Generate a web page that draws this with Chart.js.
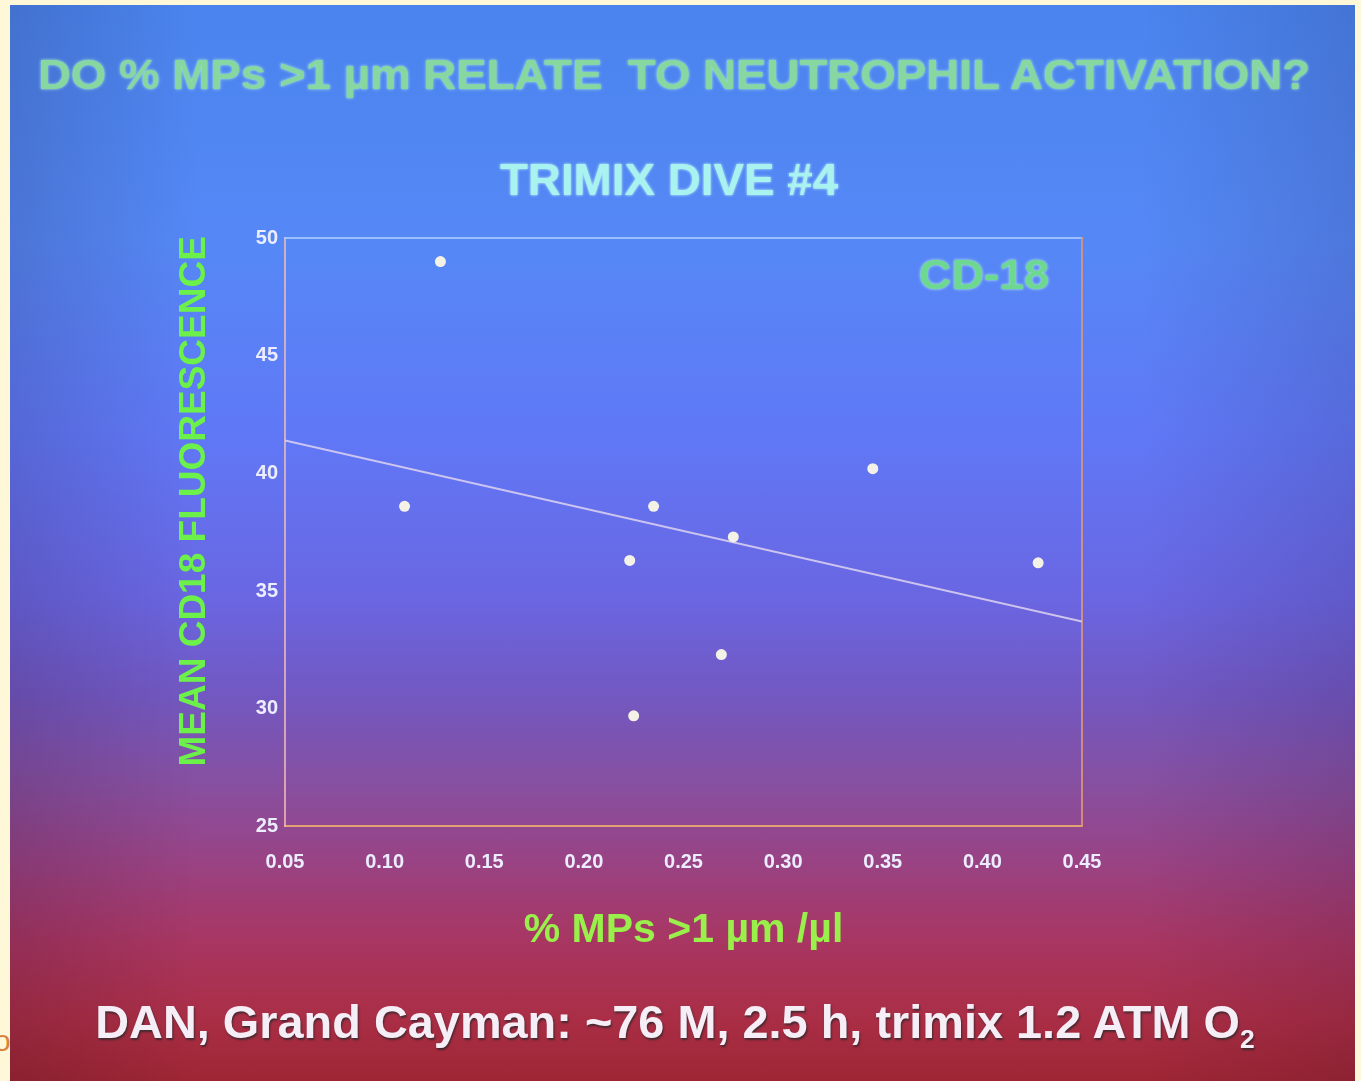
<!DOCTYPE html>
<html>
<head>
<meta charset="utf-8">
<title>CD-18 vs % MPs</title>
<script src="https://cdn.jsdelivr.net/npm/chart.js@4.4.0/dist/chart.umd.min.js"></script>
<style>
  html, body { margin: 0; padding: 0; width: 1361px; height: 1081px; overflow: hidden; background: #fff8d8; }
  #slide {
    position: absolute; left: 10px; top: 5px; width: 1345px; height: 1076px; overflow: hidden;
    background:
      linear-gradient(90deg, rgba(20, 0, 20, 0.14) 0%, rgba(20, 0, 20, 0) 14%, rgba(20, 0, 20, 0) 84%, rgba(20, 0, 30, 0.12) 100%),
      linear-gradient(180deg, #4a84ee 0%, #5588f6 22%, #6078f6 40%, #6a66e2 55%, #7258c2 64%, #8650a2 72%, #9a4282 80%, #a83662 87%, #aa2e46 94%, #9e2634 100%);
  }
  #chartBox { position: absolute; left: 0; top: 0; width: 1345px; height: 1076px; }
  .txt {
    position: absolute; white-space: nowrap; font-weight: bold;
    font-family: 'Liberation Sans', Arial, sans-serif;
    transform: translate(-50%, -50%);
  }
  #title { left: 664px; top: 70px; font-size: 42px; color: #86d8a0; text-shadow: 0 0 3px #b8f4d8; }
  #subtitle { left: 659px; top: 175px; font-size: 44px; color: #a8f2f0; text-shadow: 0 0 3px #d0fff8; }
  #tag { left: 974px; top: 270px; font-size: 42px; color: #6cd890; text-shadow: 0 0 3px #c8fae0; }
  #footer { left: 665px; top: 1020px; font-size: 46px; color: #f6eef6; text-shadow: 1px 2px 2px rgba(30, 40, 40, 0.7); }
  #footer sub { font-size: 26px; }
  #edge { position: absolute; left: -6px; top: 1024px; font-size: 30px; color: #d88440; font-family: 'Liberation Sans', Arial, sans-serif; }
</style>
</head>
<body>
<div id="edge">o</div>
<div id="slide">
  <div id="chartBox"><canvas id="chart"></canvas></div>
  <div class="txt" id="title" data-w="1272">DO % MPs &gt;1 µm RELATE&nbsp; TO NEUTROPHIL ACTIVATION?</div>
  <div class="txt" id="subtitle" data-w="338">TRIMIX DIVE #4</div>
  <div class="txt" id="tag" data-w="130">CD-18</div>
  <div class="txt" id="footer" data-w="1160">DAN, Grand Cayman: ~76 M, 2.5 h, trimix 1.2 ATM O<sub>2</sub></div>
</div>
<script>
// values
const mpPercent = [0.128, 0.110, 0.235, 0.223, 0.275, 0.345, 0.428, 0.269, 0.225];
const cd18 = [49.0, 38.6, 38.6, 36.3, 37.3, 40.2, 36.2, 32.3, 29.7];
const fitX = [0.05, 0.45];
const fitY = [41.4, 33.7];

const xTitle = '% MPs >1 µm /µl';
// leading spaces push the rotated title up a little, as on the slide
const yTitle = '      MEAN CD18 FLUORESCENCE';

// squeeze the slide texts to their widths in the photo
document.querySelectorAll('.txt').forEach(el => {
  const k = parseFloat(el.dataset.w) / el.offsetWidth;
  el.style.transform = 'translate(-50%, -50%) scaleX(' + k.toFixed(3) + ')';
});

const tickFont = { family: "'Liberation Sans', Arial, sans-serif", size: 20, weight: 'bold' };

const ctx = document.getElementById('chart').getContext('2d');
const chart = new Chart(ctx, {
  type: 'scatter',
  data: {
    datasets: [{
      label: 'CD-18',
      data: mpPercent.map((x, i) => ({ x: x, y: cd18[i] })),
      pointRadius: 5.5,
      pointBackgroundColor: '#f4f2e6',
      pointBorderWidth: 0,
      showLine: false
    }, {
      label: 'fit',
      data: fitX.map((x, i) => ({ x: x, y: fitY[i] })),
      showLine: true,
      pointRadius: 0,
      borderColor: 'rgba(222, 212, 240, 0.85)',
      borderWidth: 2
    }]
  },
  options: {
    responsive: true,
    maintainAspectRatio: false,
    animation: false,
    layout: { padding: { left: 163, right: 273, top: 233, bottom: 126 } },
    plugins: { legend: { display: false }, tooltip: { enabled: false } },
    scales: {
      x: {
        type: 'linear', position: 'bottom', min: 0.05, max: 0.45,
        grid: { display: false, drawTicks: false },
        border: { display: true, color: '#e2a274', width: 2 },
        ticks: { stepSize: 0.05, padding: 24, color: '#eceeff', font: tickFont,
                 callback: v => v.toFixed(2) },
        title: { display: true, text: xTitle, color: '#9af04a', padding: 0,
                 font: { family: "'Liberation Sans', Arial, sans-serif", size: 41, weight: 'bold' } },
        afterFit: s => { s.height = 128.6; }
      },
      y: {
        type: 'linear', position: 'left', min: 25, max: 50,
        grid: { display: false, drawTicks: false },
        border: { display: true, color: 'rgba(236, 186, 180, 0.8)', width: 2 },
        ticks: { stepSize: 5, padding: 7, color: '#eceeff', font: tickFont },
        title: { display: true, text: yTitle, color: '#6cf04a', padding: 0,
                 font: { family: "'Liberation Sans', Arial, sans-serif", size: 37, weight: 'bold' } },
        afterFit: s => { s.width = 112; }
      },
      x2: {
        type: 'linear', position: 'top', min: 0.05, max: 0.45,
        grid: { display: false, drawTicks: false },
        border: { display: true, color: 'rgba(170, 205, 255, 0.8)', width: 2 },
        ticks: { display: false }
      },
      y2: {
        type: 'linear', position: 'right', min: 25, max: 50,
        grid: { display: false, drawTicks: false },
        border: { display: true, color: 'rgba(220, 150, 120, 0.85)', width: 2 },
        ticks: { display: false }
      }
    }
  }
});
</script>
</body>
</html>
